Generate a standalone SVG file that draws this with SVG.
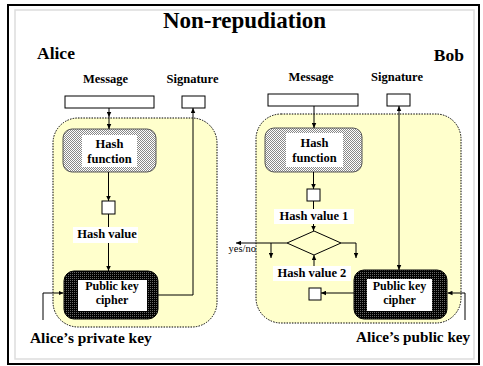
<svg xmlns="http://www.w3.org/2000/svg" width="483" height="366" viewBox="0 0 483 366">
<defs>
<style>
.t{font-family:"Liberation Serif","Times New Roman",serif;font-weight:bold;fill:#000}
.c{text-anchor:middle;font-size:12.5px}
.s{font-size:12px}
.yb{fill:#ffffcc;stroke:#000;stroke-width:1;stroke-dasharray:1.5 1.2}
.bx{fill:#fff;stroke:#000;stroke-width:1}
.ln{fill:none;stroke:#000;stroke-width:1}
.ar{marker-end:url(#ah)}
.wh{fill:#fff}
.hf{fill:url(#pg);stroke:#555;stroke-width:1}
.pk{fill:url(#pb);stroke:#000;stroke-width:1}
</style>
<pattern id="pg" width="2" height="2" patternUnits="userSpaceOnUse"><rect width="2" height="2" fill="#fff"/><rect width="1" height="1" fill="#888"/><rect x="1" y="1" width="1" height="1" fill="#888"/></pattern>
<pattern id="pb" width="2" height="2" patternUnits="userSpaceOnUse"><rect width="2" height="2" fill="#000"/><rect width="1" height="1" fill="#666"/></pattern>
<marker id="ah" viewBox="0 0 6 6" refX="6" refY="3" markerWidth="5" markerHeight="5" orient="auto" markerUnits="userSpaceOnUse"><path d="M0,0.3 L6,3 L0,5.7z" fill="#000"/></marker>
</defs>
<rect width="483" height="366" fill="#fff"/>
<rect x="8" y="5" width="471" height="359" fill="#fff" stroke="#000" stroke-width="2"/>
<rect x="15" y="10" width="459" height="349" fill="none" stroke="#ddd" stroke-width="1.5"/>
<text class="t" x="244.5" y="28" font-size="23" text-anchor="middle">Non-repudiation</text>
<text class="t" x="37" y="59" font-size="17.5">Alice</text>
<text class="t" x="464" y="61" font-size="17.5" text-anchor="end">Bob</text>

<g id="alice-area"><rect class="yb" x="53" y="118" width="164" height="209" rx="25"/></g>
<g id="bob-area"><rect class="yb" x="256" y="114" width="205" height="209" rx="25"/></g>

<g id="alice-message"><text class="t c" x="105.5" y="83">Message</text><rect class="bx" x="65" y="96" width="89" height="12"/></g>
<g id="alice-signature"><text class="t c" x="192.5" y="83">Signature</text><rect class="bx" x="182" y="96" width="23" height="12"/></g>
<g id="bob-message"><text class="t c" x="311" y="81">Message</text><rect class="bx" x="268" y="94" width="90" height="12"/></g>
<g id="bob-signature"><text class="t c" x="397" y="81">Signature</text><rect class="bx" x="387" y="94" width="23" height="12"/></g>

<g id="alice-hash"><rect class="hf" x="63" y="129" width="93" height="43" rx="9"/><rect class="wh" x="82" y="135" width="55" height="32"/><text class="t c" x="109.5" y="148">Hash</text><text class="t c" x="109.5" y="163">function</text></g>
<g id="bob-hash"><rect class="hf" x="265" y="128" width="97" height="44" rx="9"/><rect class="wh" x="286" y="133" width="57" height="34"/><text class="t c" x="314.5" y="147">Hash</text><text class="t c" x="314.5" y="162">function</text></g>

<g id="connectors">
<path class="ln ar" d="M109,108 V117"/>
<path class="ln ar" d="M109,117 V129"/>
<path class="ln ar" d="M108.5,172 V201"/>
<path class="ln ar" d="M108.5,214 V271"/>
<path class="ln ar" d="M158,295 H193 V108"/>
<path class="ln ar" d="M43,320 V293 H63.5"/>
<path class="ln ar" d="M314,106 V128"/>
<path class="ln ar" d="M313.5,172 V189"/>
<path class="ln ar" d="M313.5,201 V231"/>
<path class="ln ar" d="M287,243 H236"/>
<path class="ln ar" d="M271,243 V258"/>
<path class="ln ar" d="M341,243 H356 V258"/>
<path class="ln ar" d="M314,266 V255"/>
<path class="ln ar" d="M354,293 H321"/>
<path class="ln ar" d="M399,150 V106"/>
<path class="ln ar" d="M399,150 V270"/>
<path class="ln ar" d="M465,320 V293 H447.5"/>
</g>

<g id="alice-hash-value"><rect class="bx" x="102" y="201" width="13" height="13"/><rect class="wh" x="73" y="227" width="65" height="16"/><text class="t c" x="107" y="237.5">Hash value</text></g>
<g id="bob-hash-value-1"><rect class="bx" x="307" y="189" width="13" height="12"/><rect class="wh" x="274" y="209" width="80" height="15"/><text class="t c" x="314" y="220">Hash value 1</text></g>
<g id="bob-compare"><path d="M287,243 L314,231 L341,243 L314,255 Z" fill="#ffffcc" stroke="#000" stroke-width="1"/><text x="256" y="252" font-family="Liberation Serif, serif" font-size="10.5" text-anchor="end">yes/no</text></g>
<g id="bob-hash-value-2"><rect class="wh" x="273" y="266" width="78" height="15"/><text class="t c" x="312" y="276.5">Hash value 2</text><rect class="bx" x="309" y="288" width="12" height="12"/></g>

<g id="alice-cipher"><rect class="pk" x="64" y="271" width="94" height="48" rx="10"/><rect class="wh" x="78" y="280" width="69" height="31"/><text class="t c s" x="112" y="290">Public key</text><text class="t c s" x="112" y="304">cipher</text></g>
<g id="bob-cipher"><rect class="pk" x="354" y="270" width="93" height="49" rx="10"/><rect class="wh" x="367" y="279" width="65" height="32"/><text class="t c s" x="399.5" y="289.5">Public key</text><text class="t c s" x="399.5" y="303.5">cipher</text></g>

<text class="t" x="30" y="343" font-size="15.4">Alice’s private key</text>
<text class="t" x="356" y="342" font-size="15.2">Alice’s public key</text>
</svg>
